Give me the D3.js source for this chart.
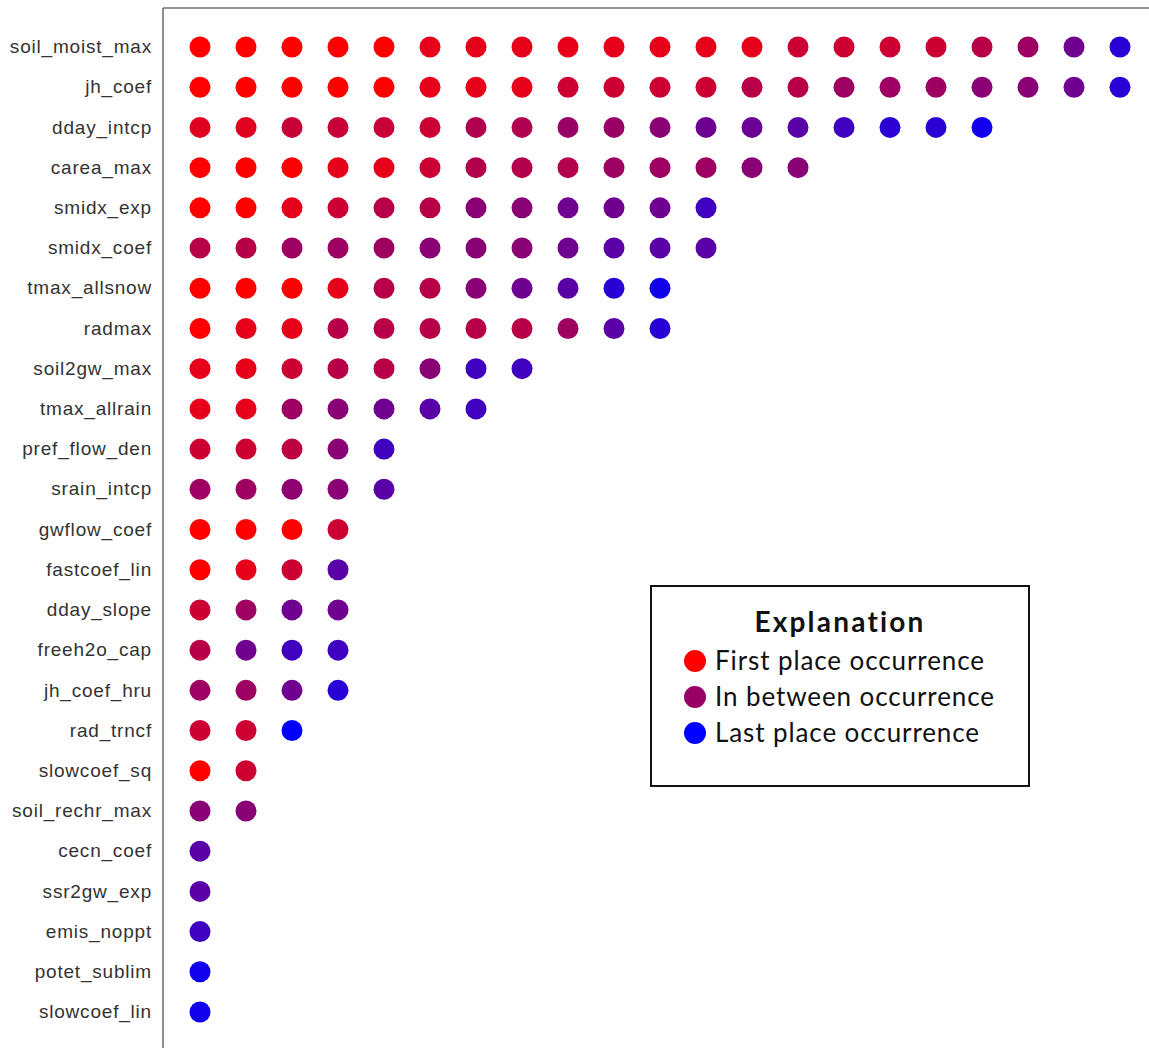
<!DOCTYPE html>
<html>
<head>
<meta charset="utf-8">
<script src="https://cdn.jsdelivr.net/npm/d3@7/dist/d3.min.js"></script>
<style>
  html, body { margin: 0; padding: 0; background: #fff; }
  svg { display: block; }
</style>
</head>
<body>
<svg id="chart" width="1149" height="1048"></svg>
<script>
// Parameters, ordered by how many times they appear
const categories = [
  "soil_moist_max", "jh_coef", "dday_intcp", "carea_max", "smidx_exp",
  "smidx_coef", "tmax_allsnow", "radmax", "soil2gw_max", "tmax_allrain",
  "pref_flow_den", "srain_intcp", "gwflow_coef", "fastcoef_lin", "dday_slope",
  "freeh2o_cap", "jh_coef_hru", "rad_trncf", "slowcoef_sq", "soil_rechr_max",
  "cecn_coef", "ssr2gw_exp", "emis_noppt", "potet_sublim", "slowcoef_lin"
];

// Placement of each occurrence: 0 = first place, 100 = last place
const rankShades = [
  [0, 0, 0, 0, 0, 10, 10, 10, 10, 10, 10, 10, 10, 20, 20, 20, 20, 28, 38, 56, 84],
  [0, 0, 0, 0, 0, 10, 10, 10, 20, 20, 20, 20, 28, 28, 38, 38, 38, 46, 46, 56, 84],
  [12, 12, 22, 22, 22, 20, 31, 31, 40, 40, 46, 57, 58, 65, 75, 83, 83, 93],
  [0, 0, 0, 10, 10, 20, 30, 30, 30, 38, 38, 38, 46, 46],
  [0, 0, 10, 20, 28, 28, 46, 46, 56, 56, 56, 75],
  [28, 28, 38, 38, 38, 46, 46, 46, 56, 65, 65, 65],
  [0, 0, 0, 10, 28, 28, 46, 56, 65, 84, 93],
  [0, 10, 10, 28, 28, 28, 28, 28, 38, 65, 84],
  [10, 10, 20, 28, 28, 46, 75, 75],
  [10, 10, 38, 46, 56, 65, 75],
  [20, 20, 25, 46, 75],
  [38, 38, 44, 46, 65],
  [0, 0, 0, 20],
  [0, 10, 20, 65],
  [20, 38, 56, 56],
  [28, 56, 75, 75],
  [38, 38, 56, 84],
  [20, 20, 100],
  [0, 20],
  [46, 46],
  [65],
  [65],
  [75],
  [93],
  [93]
];

const legendTitle = "Explanation";
const legendLabels = ["First place occurrence", "In between occurrence", "Last place occurrence"];
const legendShades = [0, 40, 100];

const svg = d3.select("#chart");

const frameLeft = 163, frameTop = 8;

const y = d3.scalePoint().domain(categories).range([47, 1012]);
const x = d3.scaleLinear().domain([0, 20]).range([200, 1120]);
const color = d3.scaleLinear().domain([0, 100]).range(["#ff0000", "#0000ff"])
  .interpolate(d3.interpolateRgb);

// Frame: left axis and top border
svg.append("line")
  .attr("x1", frameLeft).attr("x2", frameLeft)
  .attr("y1", frameTop).attr("y2", 1048)
  .attr("stroke", "#707070").attr("stroke-width", 1.6);
svg.append("line")
  .attr("x1", frameLeft).attr("x2", 1149)
  .attr("y1", frameTop).attr("y2", frameTop)
  .attr("stroke", "#707070").attr("stroke-width", 1.6);

// Category labels
const yAxis = svg.append("g")
  .attr("transform", `translate(${frameLeft},0)`)
  .call(d3.axisLeft(y).tickSize(0).tickPadding(11));
yAxis.select(".domain").remove();
yAxis.selectAll("text")
  .attr("font-family", "'Liberation Sans', Arial, sans-serif")
  .attr("font-size", 19)
  .attr("letter-spacing", 0.8)
  .attr("dy", "0.3em")
  .attr("fill", "#333");

// Dots
const rows = svg.append("g").selectAll("g")
  .data(categories.map((c, i) => ({ name: c, shades: rankShades[i] })))
  .join("g")
  .attr("transform", d => `translate(0,${y(d.name)})`);

rows.selectAll("circle")
  .data(d => d.shades)
  .join("circle")
  .attr("cx", (d, i) => x(i))
  .attr("cy", 0)
  .attr("r", 10.5)
  .attr("fill", d => color(d));

// Legend
const legend = svg.append("g").attr("transform", "translate(651,586)");
legend.append("rect")
  .attr("x", 0).attr("y", 0)
  .attr("width", 378).attr("height", 200)
  .attr("fill", "#fff").attr("stroke", "#111").attr("stroke-width", 2);
legend.append("text")
  .attr("x", 189).attr("y", 46)
  .attr("text-anchor", "middle")
  .attr("font-family", "Lato, 'Open Sans', sans-serif")
  .attr("font-weight", "bold")
  .attr("font-size", 28)
  .attr("letter-spacing", 2.2)
  .attr("fill", "#111")
  .text(legendTitle);

const items = legend.selectAll("g.item")
  .data(legendLabels.map((l, i) => ({ label: l, shade: legendShades[i] })))
  .join("g")
  .attr("class", "item")
  .attr("transform", (d, i) => `translate(0,${75 + i * 36})`);
items.append("circle")
  .attr("cx", 44).attr("cy", 0).attr("r", 11)
  .attr("fill", d => color(d.shade));
items.append("text")
  .attr("x", 64).attr("y", 9)
  .attr("font-family", "Lato, 'Open Sans', sans-serif")
  .attr("font-size", 26)
  .attr("letter-spacing", 0.9)
  .attr("fill", "#111")
  .text(d => d.label);
</script>
</body>
</html>
